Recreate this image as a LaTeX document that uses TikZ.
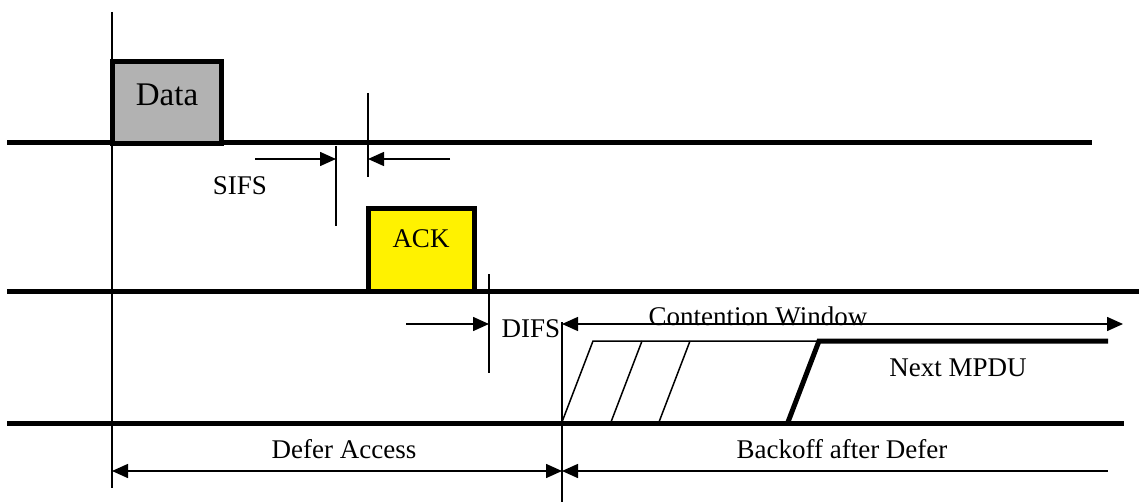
\documentclass[tikz,border=0pt]{standalone}
\usepackage{fontspec}
\setmainfont{Liberation Serif}
\usetikzlibrary{arrows.meta, positioning, calc}

\begin{document}
\begin{tikzpicture}[x=0.5pt, y=-0.5pt, >={Triangle[length=8pt, width=7pt]},
    busline/.style={line width=2.5pt},
    hairline/.style={line width=0.75pt},
    pkt/.style={draw, line width=2.5pt, inner sep=0pt},
    lbl/.style={font=\fontsize{13.5pt}{16pt}\selectfont, anchor=base, inner sep=0pt}]
    \useasboundingbox (0,0) rectangle (1139,502);

    % 三条时间轴
    \draw[busline] (7,143) -- (1092,143);
    \draw[busline] (7,291) -- (1139,291);
    \draw[busline] (7,423) -- (1124,423);

    % 竖直参考线
    \draw[hairline] (112,12) -- (112,488);
    \draw[hairline] (336,146) -- (336,226);
    \draw[hairline] (368,93) -- (368,177);
    \draw[hairline] (489,274) -- (489,373);
    \draw[hairline] (562,322) -- (562,502);

    % 数据帧与确认帧
    \node[pkt, fill=black!30, minimum width=54.5pt, minimum height=41pt] (data) at (167,102.25) {};
    \node[lbl, font=\fontsize{16.5pt}{19pt}\selectfont] (datalbl) at (167,106) {Data};
    \node[pkt, fill=yellow, minimum width=53pt, minimum height=41pt] (ack) at (421.5,250) {};
    \node[lbl] (acklbl) at (421,248) {ACK};

    % SIFS 标注
    \coordinate (sifsA) at (336,159);
    \coordinate (sifsB) at (368,159);
    \coordinate (sifsinL) at (255,159);
    \coordinate (sifsinR) at (450,159);
    \draw[hairline, ->] (sifsinL) -- (sifsA);
    \draw[hairline, ->] (sifsinR) -- (sifsB);
    \node[lbl] (sifslbl) at (240,195) {SIFS};

    % DIFS 标注
    \coordinate (difsA) at (489,324);
    \coordinate (difsinL) at (406,324);
    \draw[hairline, ->] (difsinL) -- (difsA);
    \node[lbl] (difslbl) at (531,337) {DIFS};

    % 竞争窗口
    \coordinate (cwL) at (562,324);
    \coordinate (cwR) at (1123,324);
    \draw[hairline, <->] (cwL) -- (cwR);
    \node[lbl] (cwlbl) at (758,325) {Contention Window};

    % 退避时隙
    \draw[hairline] (562,422) -- (593,341) -- (819,341);
    \draw[hairline] (611,422) -- (642,341);
    \draw[hairline] (659,422) -- (690,341);
    \draw[busline] (788,422) -- (819,341) -- (1108,341);
    \node[lbl] (mpdulbl) at (958,376) {Next MPDU};

    % 底部区间
    \coordinate (deferL) at (112,471);
    \coordinate (deferR) at (562,471);
    \coordinate (backR) at (1108,471);
    \draw[hairline, <->] (deferL) -- (deferR);
    \draw[hairline, <-] (deferR) -- (backR);
    \node[lbl] (deferlbl) at (344,458) {Defer Access};
    \node[lbl] (backlbl) at (842,458) {Backoff after Defer};
\end{tikzpicture}
\end{document}
